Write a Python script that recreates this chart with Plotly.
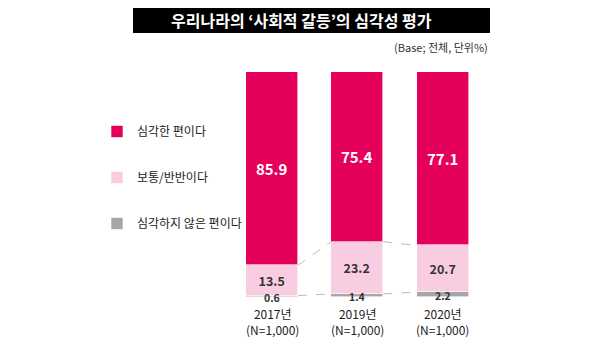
import plotly.graph_objects as go

years = ["2017년", "2019년", "2020년"]
samples = ["(N=1,000)", "(N=1,000)", "(N=1,000)"]
serious = [85.9, 75.4, 77.1]
neutral = [13.5, 23.2, 20.7]
not_serious = [0.6, 1.4, 2.2]
series_names = ["심각한 편이다", "보통/반반이다", "심각하지 않은 편이다"]

C_MAG = "#E5005B"
C_PINK = "#F9CDE1"
C_GRAY = "#A6A6A6"
KR = "Noto Sans CJK KR"

# page body has an 8px margin: figure drawn 8px in from the top-left corner
OFF = 8
W, HT = 600 - 2 * OFF, 357 - 2 * OFF
H = 225.0  # plot area height (px)


def px(xr):
    return (xr - OFF) / W


def py(yr):
    return (297 - yr) / H


xs = list(range(len(years)))
BW = 0.61

fig = go.Figure()
fig.add_bar(x=xs, y=not_serious, name=series_names[2],
            marker=dict(color=C_GRAY, line=dict(color="white", width=0.6)),
            width=BW, legendrank=3, legendgroup="c", hoverinfo="skip")
fig.add_bar(x=xs, y=neutral, name=series_names[1],
            marker=dict(color=C_PINK, line=dict(color="white", width=0.6)),
            width=BW, legendrank=2, legendgroup="b",
            text=[f"{v:.1f}" for v in neutral], textposition="inside",
            insidetextanchor="middle", textfont=dict(family=KR, size=12.5, color="#333333", weight="bold"),
            hoverinfo="skip")
fig.add_bar(x=xs, y=serious, name=series_names[0],
            marker=dict(color=C_MAG, line=dict(color="white", width=0.6)),
            width=BW, legendrank=1, legendgroup="a",
            text=[f"{v:.1f}" for v in serious], textposition="inside",
            insidetextanchor="middle", textfont=dict(family=KR, size=15, color="white", weight="bold"),
            hoverinfo="skip")

# small gray labels
for i, v in enumerate(not_serious):
    fig.add_annotation(x=xs[i], y=v / 2, text=f"{v:.1f}", showarrow=False, xref="x", yref="y",
                       yanchor="middle", yshift=-0.8,
                       font=dict(family=KR, size=10.5, color="#333333", weight="bold"))

# dashed connectors
tops_pink = [a + b for a, b in zip(not_serious, neutral)]
for i in range(len(xs) - 1):
    for top_vals in (tops_pink, not_serious):
        fig.add_shape(type="line", xref="x", yref="y",
                      x0=xs[i] + BW / 2, x1=xs[i + 1] - BW / 2,
                      y0=top_vals[i], y1=top_vals[i + 1],
                      line=dict(color="#BBBBBB", width=1, dash="dash"))

# x labels
for i in range(len(xs)):
    fig.add_annotation(x=xs[i], y=py(321), xref="x", yref="paper",
                       text=f"{years[i]}<br>{samples[i]}",
                       showarrow=False, yanchor="middle",
                       font=dict(family=KR, size=12, color="#222222"))

# title bar
fig.add_shape(type="rect", xref="paper", yref="paper", x0=px(133), x1=px(490),
              y0=py(33), y1=py(7), fillcolor="black", line=dict(width=0))
fig.add_annotation(x=px(301.5), y=py(20), xref="paper", yref="paper",
                   text="우리나라의 ‘사회적 갈등’의 심각성 평가", showarrow=False,
                   xanchor="center", yanchor="middle",
                   font=dict(family=KR, size=16, color="white", weight="bold"))
fig.add_annotation(x=px(490), y=py(47), xref="paper", yref="paper",
                   text="(Base; 전체, 단위%)", showarrow=False, xanchor="right", yanchor="middle",
                   font=dict(family=KR, size=11, color="#333333"))

x0 = -(272 - OFF) / 85.25
x1 = x0 + W / 85.25
fig.update_layout(
    width=W, height=HT, barmode="stack", bargap=0,
    margin=dict(l=0, r=0, t=72 - OFF, b=HT - (297 - OFF)),
    paper_bgcolor="white", plot_bgcolor="white",
    xaxis=dict(range=[x0, x1], visible=False, fixedrange=True),
    yaxis=dict(range=[0, 100], visible=False, fixedrange=True),
    showlegend=True,
    legend=dict(x=px(97), y=py(117), xanchor="left", yanchor="top",
                traceorder="grouped", tracegroupgap=27,
                font=dict(family=KR, size=12, color="#222222"),
                bgcolor="rgba(0,0,0,0)", itemclick=False, itemdoubleclick=False),
)

fig.write_html("out.html")
